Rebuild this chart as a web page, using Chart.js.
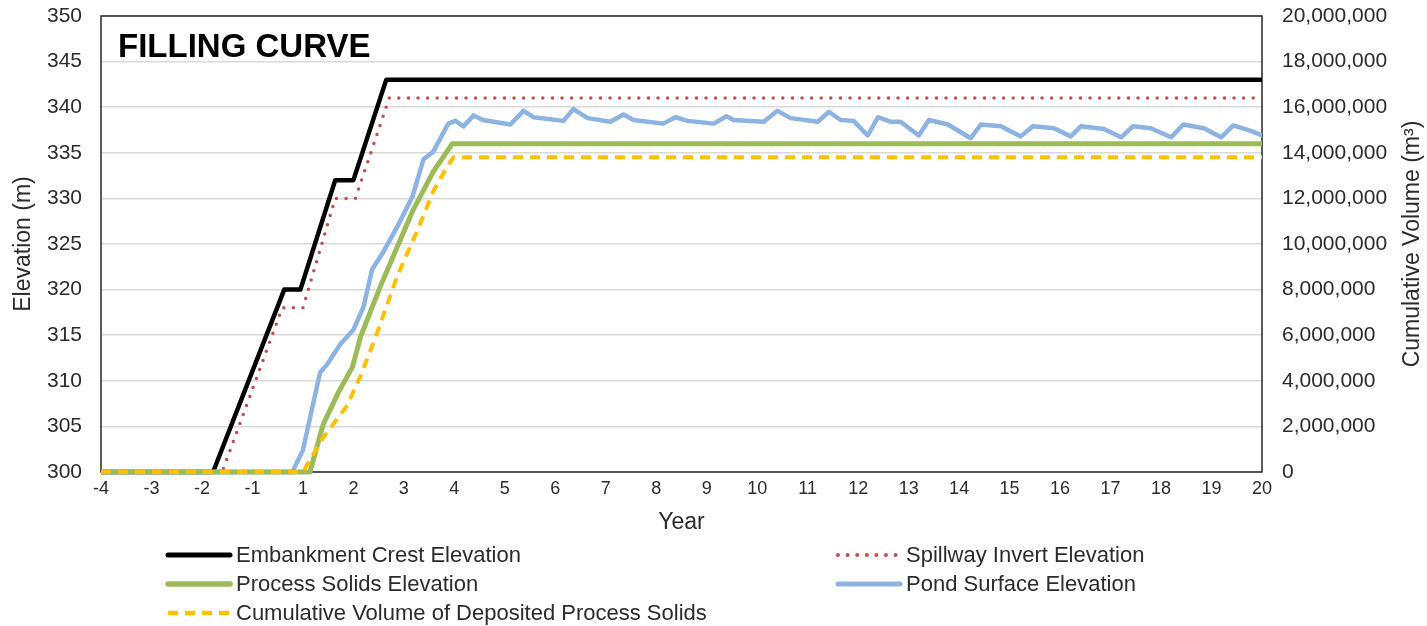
<!DOCTYPE html>
<html lang="en">
<head>
  <meta charset="UTF-8" />
  <title>Filling Curve</title>
  <script src="https://cdn.jsdelivr.net/npm/chart.js"></script>
  <style>
    * { box-sizing: border-box; margin: 0; padding: 0; }
    body { background: #fff; width: 1427px; height: 626px; overflow: hidden; }
    #chart-container { position: relative; width: 1427px; height: 626px; }
  </style>
</head>
<body>
  <div id="chart-container">
    <canvas id="fillingChart" width="1427" height="626"></canvas>
  </div>

  <script>
    // Timeline runs -4..-1 then 1..20 (there is no year 0), so t is the
    // position on the axis and xTickLabels maps it back to the year label.
    const xTickLabels = ['-4', '-3', '-2', '-1', '1', '2', '3', '4', '5', '6', '7', '8',
      '9', '10', '11', '12', '13', '14', '15', '16', '17', '18', '19', '20'];

    const crestT = [-4, -1.78, -0.37, -0.05, 0.64, 1.0, 1.65, 19];
    const crestElev = [300, 300, 320, 320, 332, 332, 343, 343];

    const spillT = [-4, -1.6, -0.41, 0.0, 0.64, 1.04, 1.71, 19];
    const spillElev = [300, 300, 318, 318, 330, 330, 341, 341];

    const solidsT = [-4, 0.14, 0.4, 0.7, 0.98, 1.14, 1.53, 1.87, 2.19, 2.58, 2.96, 19];
    const solidsElev = [300, 300, 305.2, 308.7, 311.5, 314.8, 320.3, 324.7, 328.8, 332.9, 336, 336];

    const pondT = [-4, -0.21, 0.0, 0.34, 0.48, 0.74, 1.0, 1.2, 1.37, 1.59, 1.87, 2.17, 2.39, 2.58,
      2.88, 3.02, 3.18, 3.38, 3.57, 4.11, 4.37, 4.57, 5.16, 5.36, 5.64, 6.09, 6.35, 6.55,
      7.14, 7.38, 7.62, 8.14, 8.39, 8.53, 9.13, 9.40, 9.66, 10.20, 10.42, 10.65, 10.91,
      11.19, 11.39, 11.65, 11.84, 12.20, 12.40, 12.78, 13.23, 13.43, 13.83, 14.22, 14.46,
      14.88, 15.21, 15.41, 15.87, 16.21, 16.44, 16.80, 17.20, 17.44, 17.85, 18.19, 18.43,
      18.78, 19];
    const pondElev = [300, 300, 302.4, 310.9, 311.8, 314.0, 315.6, 318.1, 322.2, 324.1, 326.9, 330.2, 334.3, 335.1,
      338.2, 338.5, 337.9, 339.1, 338.6, 338.1, 339.6, 338.9, 338.5, 339.8, 338.8, 338.4, 339.2, 338.6,
      338.2, 338.9, 338.5, 338.2, 339.0, 338.6, 338.4, 339.6, 338.8, 338.4, 339.5, 338.6, 338.5,
      336.9, 338.9, 338.4, 338.4, 336.9, 338.6, 338.1, 336.6, 338.1, 337.9, 336.8, 337.9,
      337.7, 336.8, 337.9, 337.6, 336.7, 337.9, 337.7, 336.7, 338.1, 337.7, 336.7, 338.0,
      337.4, 336.9];

    const volumeT = [-4, 0.0, 0.4, 0.87, 1.14, 1.47, 1.87, 2.27, 2.58, 2.86, 2.98, 19];
    const volumeM3 = [0, 0, 1500000, 2900000, 4200000, 6100000, 8600000, 10600000, 12300000,
      13400000, 13800000, 13800000];

    const FONT = "'Liberation Sans', Arial, sans-serif";
    const TEXT = '#2b2b2b';

    function toPoints(ts, vs) {
      return ts.map((t, i) => ({ x: t, y: vs[i] }));
    }

    // frame round the plot, under the lines
    const framePlugin = {
      id: 'frame',
      beforeDatasetsDraw(chart) {
        const { ctx, chartArea: a } = chart;
        ctx.save();
        ctx.strokeStyle = '#262626';
        ctx.lineWidth = 1.5;
        ctx.strokeRect(a.left, a.top, a.right - a.left, a.bottom - a.top);
        ctx.restore();
      }
    };

    // chart title, right axis title (reads upward) and the two-column legend
    const overlayPlugin = {
      id: 'overlay',
      afterDraw(chart) {
        const { ctx, chartArea: a } = chart;
        ctx.save();
        ctx.fillStyle = '#000';
        ctx.font = 'bold 33px ' + FONT;
        ctx.textBaseline = 'alphabetic';
        ctx.textAlign = 'left';
        ctx.fillText('FILLING CURVE', a.left + 17, 57);

        ctx.save();
        ctx.translate(1413, (a.top + a.bottom) / 2);
        ctx.rotate(-Math.PI / 2);
        ctx.font = '23px ' + FONT;
        ctx.fillStyle = TEXT;
        ctx.textAlign = 'center';
        ctx.textBaseline = 'middle';
        ctx.fillText('Cumulative Volume (m\u00B3)', 0, 0);
        ctx.restore();

        const slots = [[166, 555], [836, 555], [166, 584], [836, 584], [166, 613]];
        chart.data.datasets.forEach((ds, i) => {
          const [x, y] = slots[i];
          ctx.save();
          ctx.strokeStyle = ds.borderColor;
          ctx.lineWidth = ds.borderWidth + 0.5;
          ctx.lineCap = ds.borderCapStyle || 'round';
          ctx.setLineDash(ds.borderDash || []);
          ctx.beginPath();
          ctx.moveTo(x + 2, y);
          ctx.lineTo(x + 64, y);
          ctx.stroke();
          ctx.restore();
          ctx.font = '22px ' + FONT;
          ctx.fillStyle = TEXT;
          ctx.textAlign = 'left';
          ctx.textBaseline = 'middle';
          ctx.fillText(ds.label, x + 70, y + 1);
        });
        ctx.restore();
      }
    };

    function renderChart() {
      Chart.defaults.font.family = FONT;
      Chart.defaults.color = TEXT;
      const ctx = document.getElementById('fillingChart').getContext('2d');
      const lineBase = { pointRadius: 0, tension: 0, fill: false, borderJoinStyle: 'round',
        clip: { left: 0, top: 0, right: 0, bottom: 4 } };

      new Chart(ctx, {
        type: 'line',
        data: {
          datasets: [
            { ...lineBase, label: 'Embankment Crest Elevation', data: toPoints(crestT, crestElev),
              borderColor: '#000000', borderWidth: 4.5, borderCapStyle: 'round', yAxisID: 'y', order: 4 },
            { ...lineBase, label: 'Spillway Invert Elevation', data: toPoints(spillT, spillElev),
              borderColor: '#c0504d', borderWidth: 3.5, borderDash: [0, 9.6], borderCapStyle: 'round', yAxisID: 'y', order: 3 },
            { ...lineBase, label: 'Process Solids Elevation', data: toPoints(solidsT, solidsElev),
              borderColor: '#9bbb59', borderWidth: 5, borderCapStyle: 'round', yAxisID: 'y', order: 1 },
            { ...lineBase, label: 'Pond Surface Elevation', data: toPoints(pondT, pondElev),
              borderColor: '#8db3e2', borderWidth: 4.5, borderCapStyle: 'round', yAxisID: 'y', order: 2 },
            { ...lineBase, label: 'Cumulative Volume of Deposited Process Solids', data: toPoints(volumeT, volumeM3),
              borderColor: '#ffc000', borderWidth: 4, borderDash: [10, 7], borderCapStyle: 'butt', yAxisID: 'y2', order: 0 }
          ]
        },
        options: {
          responsive: false,
          animation: false,
          layout: { padding: { top: 16, bottom: 90, left: 0, right: 0 } },
          plugins: {
            legend: { display: false },
            tooltip: { enabled: false }
          },
          scales: {
            x: {
              type: 'linear',
              min: -4,
              max: 19,
              grid: { display: false, drawTicks: false },
              border: { display: false },
              ticks: {
                stepSize: 1,
                autoSkip: false,
                maxRotation: 0,
                padding: 6,
                font: { size: 18 },
                callback: (v) => xTickLabels[Math.round(v) + 4]
              },
              title: { display: true, text: 'Year', font: { size: 23 }, padding: { top: 0, bottom: 0 } },
              afterFit: (scale) => { scale.height = 64; }
            },
            y: {
              position: 'left',
              min: 300,
              max: 350,
              // invisible tick marks push the labels out without adding top padding
              grid: { color: '#d9d9d9', lineWidth: 1.5, drawTicks: true, tickLength: 16, tickColor: 'rgba(0,0,0,0)' },
              border: { display: false },
              ticks: { stepSize: 5, padding: 3, font: { size: 21 } },
              title: { display: true, text: 'Elevation (m)', font: { size: 23 }, padding: { top: 10, bottom: 0 } },
              afterFit: (scale) => { scale.width = 101; }
            },
            y2: {
              position: 'right',
              min: 0,
              max: 20000000,
              grid: { display: false, drawTicks: true, tickLength: 17, tickColor: 'rgba(0,0,0,0)' },
              border: { display: false },
              ticks: {
                stepSize: 2000000,
                padding: 3,
                font: { size: 21 },
                callback: (v) => v.toLocaleString('en-US')
              },
              afterFit: (scale) => { scale.width = 165; }
            }
          }
        },
        plugins: [framePlugin, overlayPlugin]
      });
    }

    window.addEventListener('DOMContentLoaded', renderChart);
  </script>
</body>
</html>
